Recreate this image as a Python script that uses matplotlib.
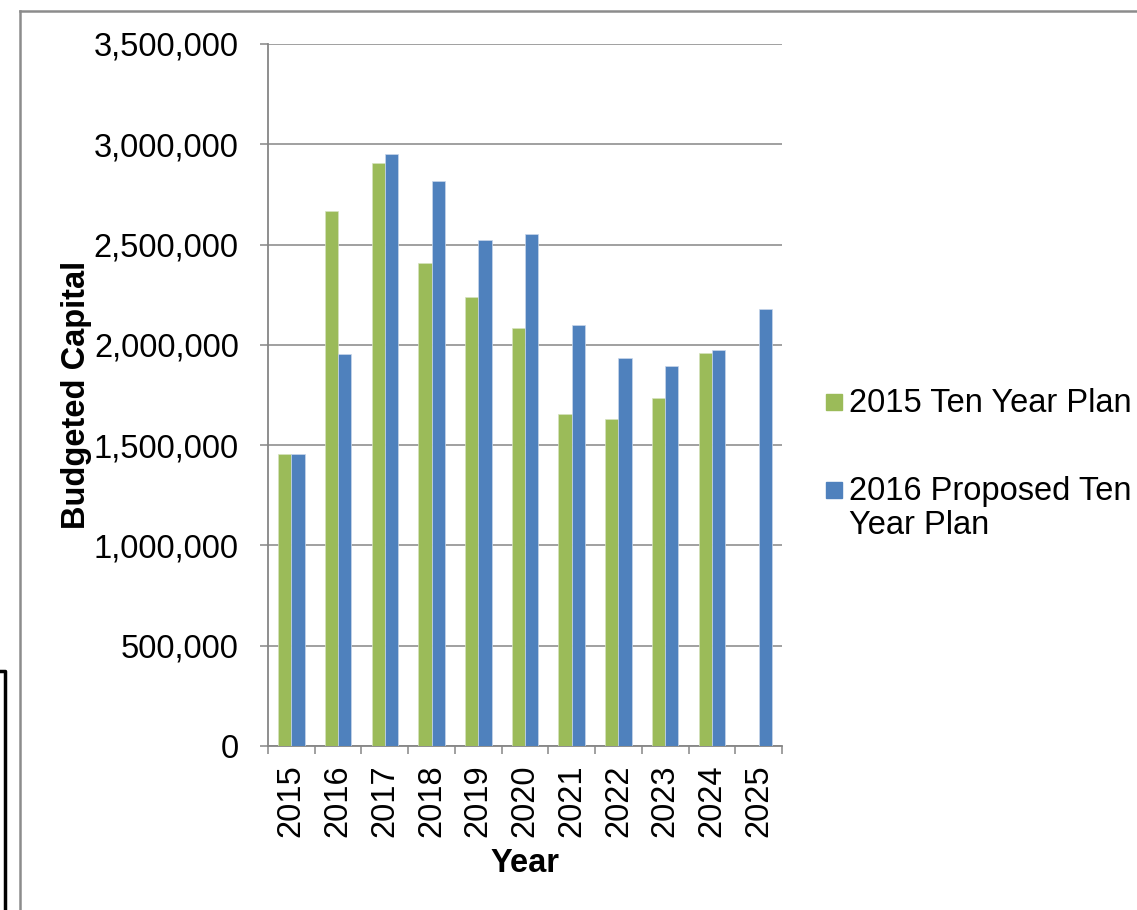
import numpy as np
import matplotlib
matplotlib.use("Agg")
import matplotlib.pyplot as plt
from matplotlib.lines import Line2D
from matplotlib.patches import Rectangle

## Chart data
years = ["2015", "2016", "2017", "2018", "2019", "2020",
         "2021", "2022", "2023", "2024", "2025"]
plan_2015 = [1456000, 2665000, 2905000, 2410000, 2237000, 2082000,
             1656000, 1632000, 1735000, 1958000, 0]
plan_2016 = [1456000, 1952000, 2950000, 2818000, 2525000, 2552000,
             2100000, 1935000, 1893000, 1976000, 2180000]
series_names = ["2015 Ten Year Plan", "2016 Proposed Ten\nYear Plan"]
yticks = np.arange(0, 3500001, 500000)

green = "#9BBB59"
blue = "#4F81BD"
grey = "#868686"

plt.rcParams['font.family'] = ['Liberation Sans', 'DejaVu Sans']
fs = 23.5

fig = plt.figure(figsize=(11.37, 9.10), dpi=100)
ax = fig.add_axes([268/1137, 164/910, 514/1137, 702/910])

x = np.arange(len(years))
w = 0.285
ax.bar(x - w/2, plan_2015, w, color=green, edgecolor="#d6e3bf", linewidth=0.5, zorder=3)
ax.bar(x + w/2, plan_2016, w, color=blue, edgecolor="#c9d7ea", linewidth=0.5, zorder=3)

ax.set_xlim(-0.5, len(years) - 0.5)
ax.set_ylim(0, 3500000)
ax.set_yticks(yticks)
ax.set_yticklabels([f"{v:,}" for v in yticks], fontsize=fs)
ax.yaxis.grid(True, color=grey, linewidth=1.1, zorder=0)

ax.set_xticks(x)
ax.set_xticklabels(years, rotation=90, fontsize=fs)
ax.set_xticks(np.arange(-0.5, len(years)), minor=True)
ax.tick_params(axis='x', which='major', length=0, pad=13)
ax.tick_params(axis='x', which='minor', length=6, width=1.1, color=grey, direction='out')
ax.tick_params(axis='y', length=6, width=1.1, color=grey, direction='out', pad=15)

for s in ['top', 'right']:
    ax.spines[s].set_visible(False)
for s in ['left', 'bottom']:
    ax.spines[s].set_color(grey)
    ax.spines[s].set_linewidth(1.3)

ax.set_xlabel("Year", fontsize=fs, fontweight='bold', va='center')
ax.xaxis.set_label_coords((525 - 268) / 514, (746 - 863) / 702)
ax.set_ylabel("Budgeted Capital", fontsize=fs, fontweight='bold', va='center')
ax.yaxis.set_label_coords((76 - 268) / 514, (746 - 395) / 702)

# legend drawn by hand so the square sits on the first text line
leg_y = [402, 490]
for name, col, yy in zip(series_names, [green, blue], leg_y):
    fig.patches.append(Rectangle((826/1137, 1 - (yy + 8)/910), 16/1137, 16/910,
                                 transform=fig.transFigure, color=col))
    fig.text(849/1137, 1 - (yy - 14)/910, name, fontsize=fs, va='top', ha='left',
             linespacing=1.12)

# chart area border and leftover box edge
fig.lines.append(Line2D([20/1137, 1], [1 - 11/910, 1 - 11/910], transform=fig.transFigure,
                        color="#8c8c8c", linewidth=1.8))
fig.lines.append(Line2D([20/1137, 20/1137], [0, 1 - 11/910], transform=fig.transFigure,
                        color="#8c8c8c", linewidth=1.8))
fig.lines.append(Line2D([0, 4.5/1137, 4.5/1137], [1 - 671/910, 1 - 671/910, 0],
                        transform=fig.transFigure, color="black", linewidth=2.5))

fig.savefig("out.png", dpi=100)
